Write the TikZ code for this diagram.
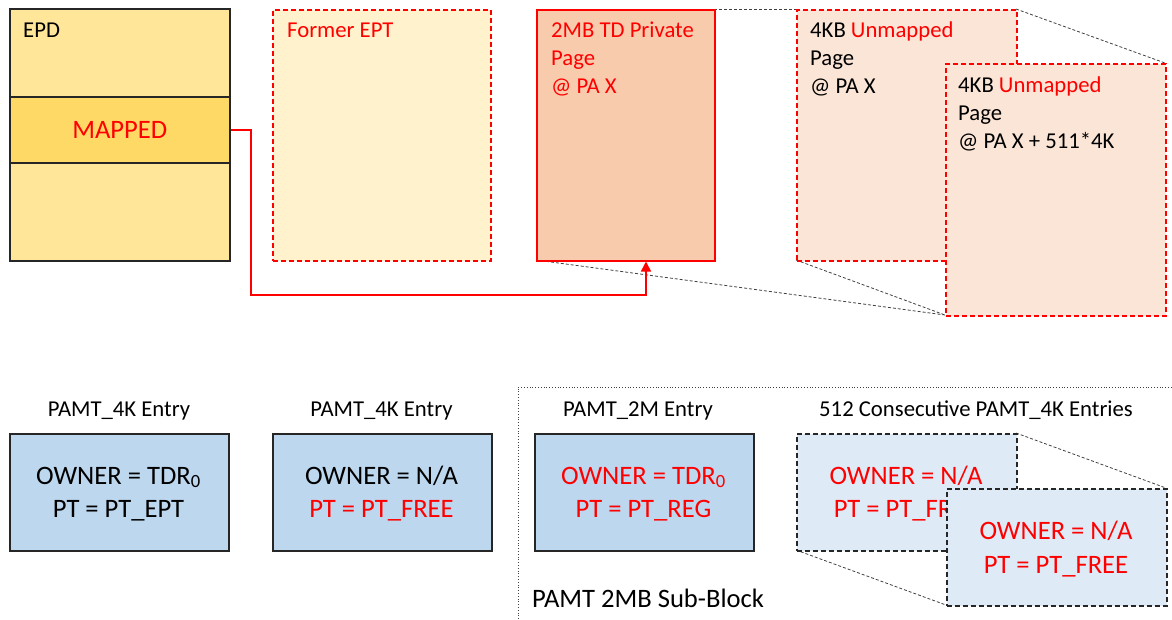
\documentclass[tikz,border=0pt]{standalone}
\usepackage{fontspec}
\setmainfont{Carlito}
\usetikzlibrary{arrows.meta}

\definecolor{epdfill}{HTML}{FFE699}
\definecolor{mapfill}{HTML}{FFD966}
\definecolor{oldfill}{HTML}{FFF2CC}
\definecolor{pagefill}{HTML}{F8CBAD}
\definecolor{smallfill}{HTML}{FBE5D6}
\definecolor{entryfill}{HTML}{BDD7EE}
\definecolor{freefill}{HTML}{DEEBF7}
\definecolor{edge}{HTML}{262626}
\definecolor{guide}{HTML}{404040}

\newcommand\smalltxt{\fontsize{22.7}{28}\selectfont}
\newcommand\bigtxt{\fontsize{26.6}{32}\selectfont}

\tikzset{
  box/.style={rectangle, inner sep=0pt, anchor=north west, line width=1.5pt},
  solidbox/.style={box, draw=edge},
  reddash/.style={box, draw=red, dash pattern=on 5pt off 3pt},
  redsolid/.style={box, draw=red},
  greydash/.style={box, draw=edge, dash pattern=on 5pt off 3pt},
  guideline/.style={draw=guide, line width=0.8pt, dash pattern=on 3pt off 2pt},
  txt/.style={inner sep=0pt, anchor=base west, font=\smalltxt},
  lbl/.style={inner sep=0pt, anchor=base, font=\smalltxt},
  entry/.style={inner sep=0pt, anchor=base, font=\bigtxt},
  link/.style={draw=red, line width=1.5pt, -{Triangle[length=10pt,width=10pt]}},
}

\begin{document}
\begin{tikzpicture}[x=1pt, y=-1pt]
\useasboundingbox (0,0) rectangle (1172,619);

% ---------- upper row: EPD, former EPT, 2MB page and its 4KB pieces ----------
\draw[guideline] (714,9) -- (796,9);
\draw[guideline] (1016,9) -- (1165,63);
\draw[guideline] (536,260) -- (945,315);
\draw[guideline] (796,260) -- (945,315);

\node[solidbox, fill=epdfill, minimum width=220pt, minimum height=252pt] (epd) at (9,8) {};
\node[solidbox, fill=mapfill, minimum width=220pt, minimum height=66pt] (mapped) at (9,96) {};
\node[inner sep=0pt, font=\bigtxt, text=red] (mappedtxt) at (mapped.center) {MAPPED};
\node[txt] (epdtxt) at (23,37) {EPD};

\node[reddash, fill=oldfill, minimum width=218pt, minimum height=251pt] (oldept) at (272,9) {};
\node[txt, text=red] (oldtxt) at (287,37) {Former EPT};

\node[redsolid, fill=pagefill, minimum width=178pt, minimum height=251pt] (page) at (536,9) {};
\node[txt, text=red] (pageA) at (551,37) {2MB TD Private};
\node[txt, text=red] (pageB) at (551,65) {Page};
\node[txt, text=red] (pageC) at (551,93) {@ PA X};

\node[reddash, fill=smallfill, minimum width=220pt, minimum height=251pt] (pa) at (796,9) {};
\node[txt] (paA) at (810,37) {4KB \textcolor{red}{Unmapped}};
\node[txt] (paB) at (810,65) {Page};
\node[txt] (paC) at (810,93) {@ PA X};

\node[reddash, fill=smallfill, minimum width=220pt, minimum height=252pt] (pb) at (945,63) {};
\node[txt] (pbA) at (958,92) {4KB \textcolor{red}{Unmapped}};
\node[txt] (pbB) at (958,120) {Page};
\node[txt] (pbC) at (958,148) {@ PA X + 511*4K};

\coordinate (turnA) at (251,295);
\coordinate (turnB) at (646,295);
\draw[link] (mapped.east) -| (turnA) -- (turnB) -- (turnB |- page.south);

% ---------- lower row: PAMT entries ----------
\draw[draw=guide, line width=0.8pt, dotted] (518,619) -- (518,387) -- (1172,387);

\node[lbl] (l1) at (119,416) {PAMT\_4K Entry};
\node[solidbox, fill=entryfill, minimum width=219pt, minimum height=117pt] (e1) at (9,433) {};
\node[entry] (e1a) at (118.5,484) {OWNER = TDR\textsubscript{0}};
\node[entry] (e1b) at (118.5,517) {PT = PT\_EPT};

\node[lbl] (l2) at (381.5,416) {PAMT\_4K Entry};
\node[solidbox, fill=entryfill, minimum width=219pt, minimum height=117pt] (e2) at (272,433) {};
\node[entry] (e2a) at (381.5,484) {OWNER = N/A};
\node[entry, text=red] (e2b) at (381.5,517) {PT = PT\_FREE};

\node[lbl] (l3) at (638,416) {PAMT\_2M Entry};
\node[solidbox, fill=entryfill, minimum width=219pt, minimum height=117pt] (e3) at (534,433) {};
\node[entry, text=red] (e3a) at (643.5,484) {OWNER = TDR\textsubscript{0}};
\node[entry, text=red] (e3b) at (643.5,517) {PT = PT\_REG};

\node[lbl] (l4) at (976,416) {512 Consecutive PAMT\_4K Entries};
\draw[guideline] (1016,433) -- (1166,488);
\draw[guideline] (796,550) -- (946,605);
\node[greydash, fill=freefill, minimum width=220pt, minimum height=117pt] (fa) at (796,433) {};
\node[entry, text=red] (faA) at (906,484) {OWNER = N/A};
\node[entry, text=red] (faB) at (906,517) {PT = PT\_FREE};
\node[greydash, fill=freefill, minimum width=220pt, minimum height=117pt] (fb) at (946,488) {};
\node[entry, text=red] (fbA) at (1056,539) {OWNER = N/A};
\node[entry, text=red] (fbB) at (1056,573) {PT = PT\_FREE};

\node[inner sep=0pt, anchor=base west, font=\bigtxt] (blk) at (532,607) {PAMT 2MB Sub-Block};
\end{tikzpicture}
\end{document}
